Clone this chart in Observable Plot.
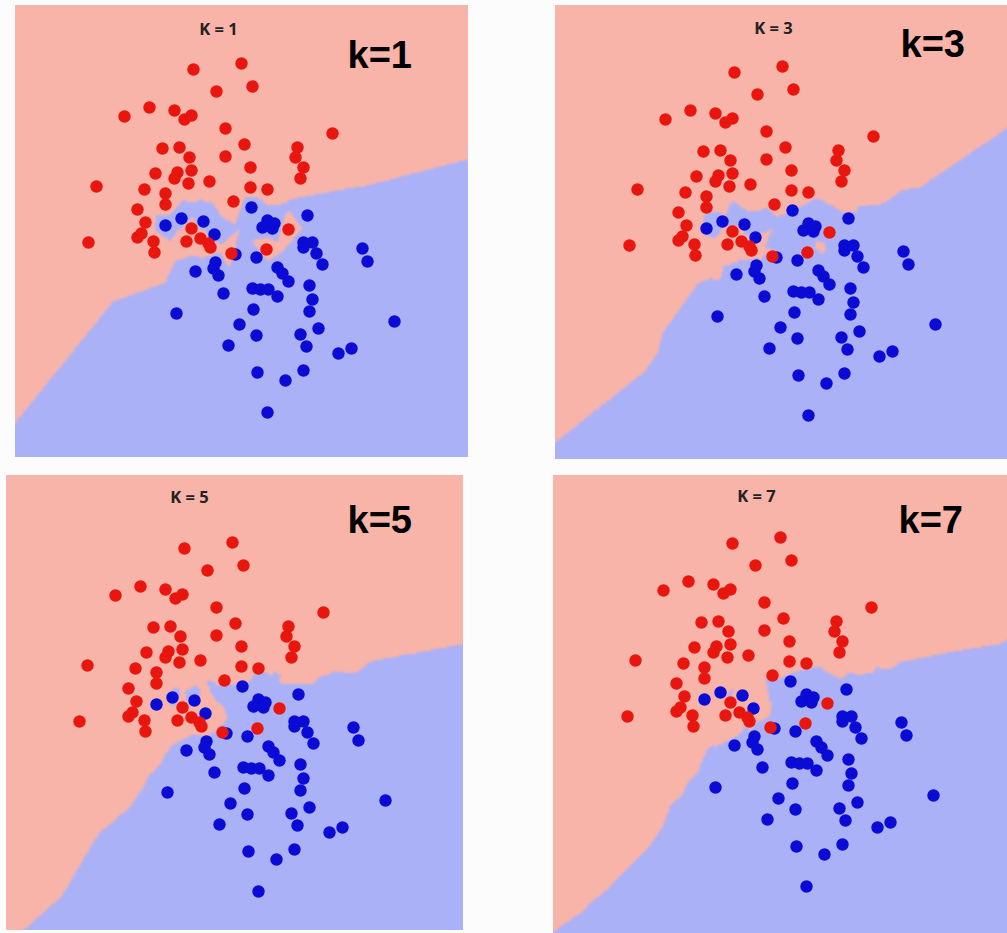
<!DOCTYPE html>
<html><head><meta charset="utf-8">
<script src="https://cdn.jsdelivr.net/npm/d3@7"></script>
<script src="https://cdn.jsdelivr.net/npm/@observablehq/plot@0.6"></script>
<style>
body{margin:0;background:#fcfcfc;}
#wrap{position:relative;width:1007px;height:933px;overflow:hidden;background:#fcfcfc;}
.panel{position:absolute;line-height:0;overflow:hidden;}
</style></head><body><div id="wrap"></div>
<script>
// class "red" training points (x, y in the panel's own units, y grows downward)
const redX = [193,241,252,216,149,124,174,184,191,225,244,162,179,189,225,250,155,177,174,191,188,209,96,144,165,165,137,145,233,250,267,332,297,295,303,300,191,88,137,141,153,154,186,200,208,210,231,266,288];
const redY = [69,63,86,91,107,116,110,119,115,128,144,148,147,157,156,167,173,172,178,170,183,181,186,189,193,204,209,222,201,187,189,133,147,157,167,178,228,242,237,233,241,252,241,238,243,247,253,249,229];
// class "blue" training points
const blueX = [181,203,165,214,251,267,262,272,274,307,303,312,303,316,322,362,367,235,256,195,215,213,218,277,282,288,252,260,268,277,309,312,309,253,223,176,239,256,318,300,306,228,394,338,351,257,285,303,267];
const blueY = [218,221,225,234,207,220,227,228,223,215,242,242,247,253,264,248,261,254,257,271,262,268,275,267,273,281,288,289,289,296,285,299,311,309,293,313,324,335,328,334,346,345,321,353,348,372,380,370,412];
const kValues = [1, 3, 5, 7];
const smallTitles = ["K = 1", "K = 3", "K = 5", "K = 7"];
const bigTitles = ["k=1", "k=3", "k=5", "k=7"];

// layout of the four panels on the page
const layout = [
  {left:15,  top:5,   right:468,  bottom:457, ox:0,   oy:0,   s:[203,29], b:[332,62]},
  {left:555, top:5,   right:1007, bottom:459, ox:541, oy:3,   s:[218,28], b:[345,51]},
  {left:6,   top:475, right:463,  bottom:930, ox:-9,  oy:479, s:[183,27], b:[341,57]},
  {left:553, top:475, right:1007, bottom:933, ox:539, oy:474, s:[203,26], b:[345,57]}
];

const PINK = "#f9b4a9", LBLUE = "#abb1f6", RED = "#e8160e", BLUE = "#0b0bd6";

const red = redX.map((x, i) => ({x, y: redY[i], c: 0}));
const blue = blueX.map((x, i) => ({x, y: blueY[i], c: 1}));
const all = red.concat(blue);
const PX = Float64Array.from(all, d => d.x), PY = Float64Array.from(all, d => d.y), PC = Int8Array.from(all, d => d.c);

function classify(x, y, k) {
  const bd = new Float64Array(k).fill(Infinity), bc = new Int8Array(k);
  for (let j = 0; j < PX.length; j++) {
    const dx = PX[j] - x, dy = PY[j] - y, d = dx*dx + dy*dy;
    if (d < bd[k-1]) {
      let i = k - 1;
      while (i > 0 && bd[i-1] > d) { bd[i] = bd[i-1]; bc[i] = bc[i-1]; i--; }
      bd[i] = d; bc[i] = PC[j];
    }
  }
  let s = 0; for (let i = 0; i < k; i++) s += bc[i];
  return s * 2 > k ? 1 : 0;
}

const wrap = document.getElementById("wrap");
layout.forEach((L, p) => {
  const k = kValues[p];
  const W = L.right - L.left, H = L.bottom - L.top;
  const x0 = L.left - L.ox, x1 = L.right - L.ox;
  const y0 = L.top - L.oy, y1 = L.bottom - L.oy;
  const step = 1.5, pad = 6;
  const gx0 = x0 - pad, gx1 = x1 + pad, gy0 = y0 - pad, gy1 = y1 + pad;
  const runs = [];
  for (let gy = gy0; gy < gy1; gy += step) {
    const cy = gy + step / 2;
    let start = null;
    for (let gx = gx0; gx < gx1 + step; gx += step) {
      const c = gx < gx1 ? classify(gx + step / 2, cy, k) : 0;
      if (c === 1 && start === null) start = gx;
      if (c !== 1 && start !== null) { runs.push({x1: start, x2: gx, y1: gy, y2: gy + step}); start = null; }
    }
  }
  const chart = Plot.plot({
    width: W, height: H,
    margin: 0,
    x: {domain: [x0, x1], axis: null},
    y: {domain: [y1, y0], axis: null},
    style: {background: PINK, overflow: "hidden"},
    marks: [
      Plot.rect(runs, {x1: "x1", x2: "x2", y1: "y1", y2: "y2", fill: LBLUE, shapeRendering: "crispEdges"}),
      Plot.dot(blue, {x: "x", y: "y", r: 6.2, fill: BLUE}),
      Plot.dot(red, {x: "x", y: "y", r: 6.2, fill: RED}),
      Plot.text([smallTitles[p]], {frameAnchor: "top-left", dx: L.s[0], dy: L.s[1], text: d => d, textAnchor: "middle", lineAnchor: "bottom", fontSize: 16.5, fontWeight: "bold", fontFamily: "Open Sans", fill: "#222"}),
      Plot.text([bigTitles[p]], {frameAnchor: "top-left", dx: L.b[0], dy: L.b[1], text: d => d, textAnchor: "start", lineAnchor: "bottom", fontSize: 38, fontWeight: "bold", fontFamily: "Liberation Sans", fill: "#000"})
    ]
  });
  const rg = chart.querySelector('g[aria-label="rect"]');
  if (rg) rg.style.filter = "blur(1px)";
  const div = document.createElement("div");
  div.className = "panel";
  div.style.left = L.left + "px"; div.style.top = L.top + "px";
  div.style.width = W + "px"; div.style.height = H + "px";
  div.appendChild(chart);
  wrap.appendChild(div);
});
</script></body></html>
